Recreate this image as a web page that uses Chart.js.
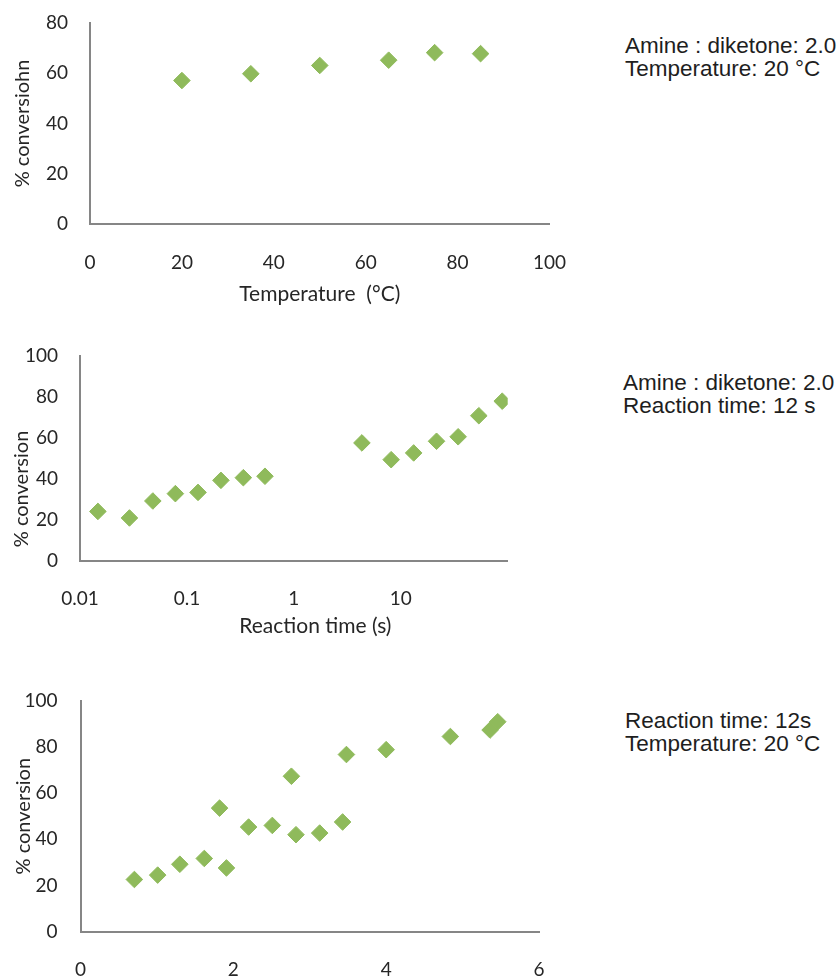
<!DOCTYPE html>
<html>
<head>
<meta charset="utf-8">
<script src="https://cdn.jsdelivr.net/npm/chart.js@4.4.0/dist/chart.umd.min.js"></script>
<style>
html,body{margin:0;padding:0;background:#fff;width:840px;height:977px;overflow:hidden;position:relative;}
.box{position:absolute;left:0;}
.note{position:absolute;font-family:"Liberation Sans",Arial,sans-serif;font-size:22.5px;line-height:23px;color:#1e1e1e;white-space:nowrap;}
</style>
</head>
<body>
<div class="box" style="top:0"><canvas id="c1" width="600" height="320"></canvas></div>
<div class="box" style="top:330px"><canvas id="c2" width="540" height="320"></canvas></div>
<div class="box" style="top:680px"><canvas id="c3" width="560" height="297"></canvas></div>

<div class="note" style="left:625px;top:34px">Amine : diketone: 2.0<br>Temperature: 20 °C</div>
<div class="note" style="left:623px;top:371px">Amine : diketone: 2.0<br>Reaction time: 12 s</div>
<div class="note" style="left:625px;top:709px">Reaction time: 12s<br>Temperature: 20 °C</div>

<script>
// ---- Chart 1: conversion vs temperature ----
const tempX = [20, 35, 50, 65, 75, 85];
const tempY = [57.1, 59.8, 63.1, 65.2, 68.2, 67.8];
const tempTicks = [0, 20, 40, 60, 80, 100];
const conv1Ticks = [0, 20, 40, 60, 80];

// ---- Chart 2: conversion vs reaction time (log) ----
const timeX = [0.0147, 0.029, 0.048, 0.078, 0.127, 0.208, 0.337, 0.537, 4.33, 8.13, 13.2, 21.6, 34.4, 53.7, 88.9];
const timeY = [24.0, 20.8, 29.1, 32.7, 33.3, 39.2, 40.5, 41.2, 57.5, 49.3, 52.6, 58.3, 60.5, 70.8, 77.9];
const timeTickValues = [0.01, 0.1, 1, 10, 100];
const timeTickLabels = ['0.01', '0.1', '1', '10', ''];
const conv2Ticks = [0, 20, 40, 60, 80, 100];

// ---- Chart 3: conversion vs amine : diketone ratio ----
const ratioX = [0.705, 1.01, 1.30, 1.62, 1.82, 1.91, 2.20, 2.51, 2.76, 2.82, 3.13, 3.43, 3.48, 4.00, 4.84, 5.36, 5.46];
const ratioY = [22.6, 24.5, 29.2, 31.7, 53.5, 27.6, 45.3, 46.0, 67.3, 42.0, 42.7, 47.5, 76.7, 78.8, 84.5, 87.3, 90.9];
const ratioTicks = [0, 2, 4, 6];
const conv3Ticks = [0, 20, 40, 60, 80, 100];

const GREEN = '#8fba5b';
const AXIS = '#868686';
const TXT = '#262626';
const FONT = {family: 'Lato', size: 19};
const XTITLE = {family: 'Lato', size: 21};
const YTITLE = {family: 'Lato', size: 20};

function pts(xs, ys) { return xs.map((v, i) => ({x: v, y: ys[i]})); }
function setTicks(arr) { return s => { s.ticks = arr.map(v => ({value: v})); }; }
function fitW(w) { return s => { s.width = w; s.paddingTop = s.paddingBottom = s.paddingLeft = s.paddingRight = 0; }; }
function fitH(h) { return s => { s.height = h; s.paddingTop = s.paddingBottom = s.paddingLeft = s.paddingRight = 0; }; }

function axis(o) {
  return Object.assign({
    grid: {display: false, drawTicks: false},
    border: {display: true, color: AXIS, width: 2},
  }, o);
}

function make(id, data, xOpts, yOpts, pad) {
  return new Chart(document.getElementById(id), {
    type: 'scatter',
    data: {datasets: [{
      data: data,
      pointStyle: 'rectRot',
      pointRadius: 8.3,
      pointHoverRadius: 8.3,
      backgroundColor: GREEN,
      borderColor: GREEN,
      borderWidth: 1
    }]},
    options: {
      responsive: false,
      animation: false,
      devicePixelRatio: 1,
      layout: {padding: pad},
      plugins: {legend: {display: false}, tooltip: {enabled: false}},
      scales: {x: xOpts, y: yOpts}
    }
  });
}

// Chart 1
make('c1', pts(tempX, tempY),
  axis({type: 'linear', min: 0, max: 100,
    afterBuildTicks: setTicks(tempTicks),
    afterFit: fitH(96),
    ticks: {color: TXT, font: FONT, padding: 27, maxRotation: 0, autoSkip: false},
    title: {display: true, text: 'Temperature  (°C)', color: TXT, font: XTITLE, padding: {top: 0, bottom: 13}}}),
  axis({type: 'linear', min: 0, max: 80,
    afterBuildTicks: setTicks(conv1Ticks),
    afterFit: fitW(90),
    ticks: {color: TXT, font: FONT, padding: 22},
    title: {display: true, text: '% conversiohn', color: TXT, font: YTITLE, padding: {top: 10.5, bottom: 0}}}),
  {top: 23, right: 50.5, left: 0, bottom: 0});

// Chart 2
make('c2', pts(timeX, timeY),
  axis({type: 'logarithmic', min: 0.01, max: 100,
    afterBuildTicks: setTicks(timeTickValues),
    afterFit: fitH(89.5),
    ticks: {color: TXT, font: FONT, padding: 27, maxRotation: 0, autoSkip: false,
      callback: (v, i) => timeTickLabels[i]},
    title: {display: true, text: '        Reaction time (s)', color: TXT, font: XTITLE, padding: {top: 0, bottom: 11}}}),
  axis({type: 'linear', min: 0, max: 100,
    afterBuildTicks: setTicks(conv2Ticks),
    afterFit: fitW(80),
    ticks: {color: TXT, font: FONT, padding: 22},
    title: {display: true, text: '% conversion            ', color: TXT, font: YTITLE, padding: {top: 9.5, bottom: 0}}}),
  {top: 26, right: 32.3, left: 0, bottom: 0});

// Chart 3
make('c3', pts(ratioX, ratioY),
  axis({type: 'linear', min: 0, max: 6,
    afterBuildTicks: setTicks(ratioTicks),
    afterFit: fitH(45.3),
    ticks: {color: TXT, font: FONT, padding: 27, maxRotation: 0, autoSkip: false}}),
  axis({type: 'linear', min: 0, max: 100,
    afterBuildTicks: setTicks(conv3Ticks),
    afterFit: fitW(80.5),
    ticks: {color: TXT, font: FONT, padding: 23},
    title: {display: true, text: '% conversion', color: TXT, font: YTITLE, padding: {top: 11.5, bottom: 0}}}),
  {top: 20.7, right: 21, left: 0, bottom: 0});
</script>
</body>
</html>
